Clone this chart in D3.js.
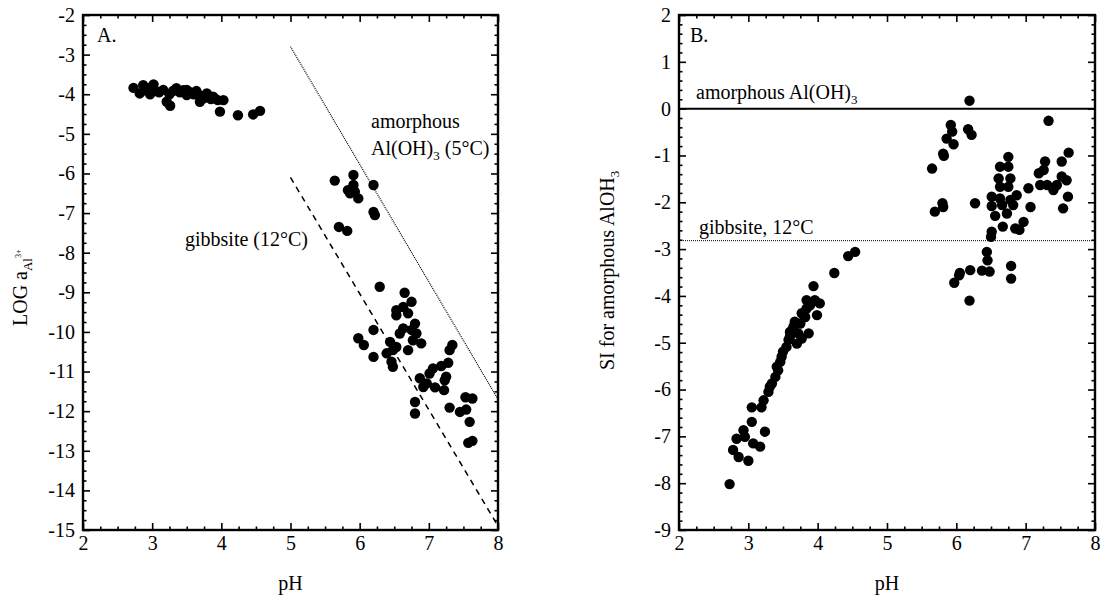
<!DOCTYPE html>
<html><head><meta charset="utf-8">
<script src="https://cdn.jsdelivr.net/npm/d3@7"></script>
<style>
html,body{margin:0;padding:0;background:#fff;}
svg text{font-family:'Liberation Serif','Times New Roman',Times,'DejaVu Serif',serif !important;fill:#000;}
</style></head>
<body>
<svg id="chart" width="1101" height="596"></svg>
<script>
// ---------- DATA ----------
const xTicks = [2,3,4,5,6,7,8];
const yTicksA = [-2,-3,-4,-5,-6,-7,-8,-9,-10,-11,-12,-13,-14,-15];
const yTicksB = [2,1,0,-1,-2,-3,-4,-5,-6,-7,-8,-9];

// Panel A: pH vs LOG a(Al3+)
const phA = [2.73,2.87,3.02,2.82,2.97,3.16,3.21,3.26,3.35,3.50,3.64,3.69,3.79,3.88,4.03,3.98,4.24,4.46,4.56,
  3.05,3.10,3.30,3.40,3.45,3.55,3.60,3.70,3.75,3.80,3.85,3.90,3.95,2.90,2.95,3.00,3.25,3.50,3.65,
  5.64,5.91,5.83,5.93,5.98,5.86,5.91,6.20,6.20,6.22,5.70,5.82,
  6.29,6.65,6.75,6.53,6.63,6.70,6.53,6.80,6.75,6.63,6.58,6.82,6.77,6.89,6.70,6.20,5.98,6.06,6.20,6.44,6.48,6.39,6.46,6.48,6.53,
  7.34,7.30,7.28,7.18,7.06,7.01,7.25,7.23,6.87,6.92,6.97,7.09,7.22,6.80,6.80,7.53,7.63,7.30,7.45,7.54,7.59,7.57,7.63];
const logAl = [-3.84,-3.77,-3.75,-3.98,-4.00,-3.89,-4.19,-4.29,-3.85,-3.89,-3.92,-4.19,-3.98,-4.06,-4.15,-4.44,-4.53,-4.51,-4.42,
  -3.92,-3.95,-3.92,-3.95,-3.90,-3.95,-4.00,-4.05,-4.10,-4.05,-4.12,-4.10,-4.15,-3.90,-3.85,-3.82,-4.00,-4.02,-3.98,
  -6.18,-6.04,-6.42,-6.46,-6.63,-6.50,-6.29,-6.29,-6.97,-7.05,-7.35,-7.45,
  -8.86,-9.01,-9.24,-9.45,-9.37,-9.53,-9.58,-9.79,-9.95,-9.91,-10.04,-10.04,-10.21,-10.29,-10.46,-9.95,-10.16,-10.33,-10.63,-10.25,-10.46,-10.54,-10.75,-10.88,-10.38,
  -10.33,-10.46,-10.78,-10.86,-10.92,-11.05,-11.13,-11.22,-11.17,-11.39,-11.30,-11.40,-11.47,-11.77,-12.06,-11.65,-11.68,-11.91,-12.02,-11.96,-12.27,-12.80,-12.75];

// Panel A reference lines (pH, log a)
const amorphLineA = [[5,-2.8],[8,-11.7]];
const gibbsLineA = [[5,-6.1],[8,-14.9]];

// Panel B: pH vs SI amorphous Al(OH)3
const phB = [2.73,3.00,2.86,2.78,2.83,2.93,3.05,2.95,3.07,3.17,3.24,3.05,3.19,3.22,3.29,3.34,3.39,3.43,3.46,3.50,3.55,3.60,3.63,3.72,3.70,3.75,3.82,3.87,3.84,3.84,3.96,4.03,3.99,3.94,4.24,4.44,4.54,
  3.65,3.58,3.48,3.41,3.31,3.77,3.89,3.67,3.60,3.77,
  6.19,7.33,5.92,5.94,5.86,5.96,6.17,6.22,5.81,5.82,5.65,5.80,5.69,5.81,6.27,
  6.75,6.63,6.75,6.61,6.78,6.63,6.75,6.51,6.63,6.78,6.87,7.04,6.51,6.66,6.82,7.07,6.56,6.73,6.67,6.85,6.91,6.97,6.51,6.50,
  7.19,7.28,7.21,7.31,7.40,7.45,7.52,7.52,7.59,7.62,7.61,7.54,7.26,
  6.44,6.45,6.20,6.37,6.48,6.05,5.97,6.79,6.79,6.19,6.04];
const siB = [-8.02,-7.52,-7.44,-7.29,-7.05,-6.87,-6.69,-7.01,-7.15,-7.22,-6.90,-6.38,-6.38,-6.23,-6.05,-5.87,-5.73,-5.59,-5.41,-5.19,-5.09,-4.87,-4.73,-4.80,-5.02,-4.59,-4.45,-4.80,-4.27,-4.09,-4.09,-4.16,-4.41,-3.79,-3.51,-3.15,-3.06,
  -4.66,-4.94,-5.30,-5.51,-5.94,-4.37,-4.20,-4.55,-4.77,-4.91,
  0.17,-0.26,-0.35,-0.49,-0.64,-0.76,-0.44,-0.56,-0.96,-1.01,-1.28,-2.02,-2.20,-2.10,-2.02,
  -1.03,-1.24,-1.24,-1.49,-1.49,-1.67,-1.67,-1.88,-1.92,-1.95,-1.85,-1.70,-2.08,-2.06,-2.06,-2.10,-2.29,-2.24,-2.52,-2.56,-2.59,-2.42,-2.63,-2.74,
  -1.38,-1.13,-1.63,-1.63,-1.74,-1.63,-1.13,-1.45,-1.53,-0.94,-1.88,-2.13,-1.31,
  -3.06,-3.24,-3.45,-3.46,-3.48,-3.51,-3.72,-3.36,-3.63,-4.10,-3.56];

const amorphLevelB = 0;
const gibbsLevelB = -2.82;

// ---------- DRAW ----------
const svg = d3.select("#chart");
const FONT = 20;
const SUB = 13;
const FAMILY = "'Liberation Serif','Times New Roman',Times,'DejaVu Serif',serif";

function panel(cfg){
  const {x, y, yTicks, yMinorStep, xs, ys} = cfg;
  const g = svg.append("g");
  const [x0,x1] = x.range(); const [y0,y1] = y.range();
  const xMinor = d3.range(2,8.001,0.25).filter(v=>Math.abs(v-Math.round(v))>1e-6);
  const yd = y.domain();
  const yMinor = d3.range(yd[0], yd[1]+1e-6, yMinorStep).map(v=>+v.toFixed(3)).filter(v=>Math.abs(v-Math.round(v))>1e-6);

  function addAxis(axisFn, scale, ticks, size, pos, labels, pad){
    const a = axisFn(scale).tickValues(ticks).tickSize(size).tickPadding(pad||6);
    if(!labels) a.tickFormat("");
    else a.tickFormat(d=>String(d));
    const ag = g.append("g").attr("transform", pos).call(a);
    ag.attr("font-family", FAMILY).attr("font-size", FONT);
    ag.select(".domain").remove();
    ag.selectAll("line").attr("stroke","#000").attr("stroke-width",1.6);
    ag.selectAll("text").attr("fill","#000").style("font-family",FAMILY);
    return ag;
  }
  addAxis(d3.axisBottom, x, xTicks, -7, `translate(0,${y0})`, true, 6);
  addAxis(d3.axisBottom, x, xMinor, -3.5, `translate(0,${y0})`, false);
  addAxis(d3.axisTop, x, xTicks, -7, `translate(0,${y1})`, false);
  addAxis(d3.axisTop, x, xMinor, -3.5, `translate(0,${y1})`, false);
  addAxis(d3.axisLeft, y, yTicks, -7, `translate(${x0},0)`, true, 8);
  addAxis(d3.axisLeft, y, yMinor, -3.5, `translate(${x0},0)`, false);
  addAxis(d3.axisRight, y, yTicks, -7, `translate(${x1},0)`, false);
  addAxis(d3.axisRight, y, yMinor, -3.5, `translate(${x1},0)`, false);
  g.append("rect").attr("x",x0).attr("y",y1).attr("width",x1-x0).attr("height",y0-y1)
    .attr("fill","none").attr("stroke","#000").attr("stroke-width",2.4);
  g.append("g").selectAll("circle").data(xs.map((v,i)=>[v,ys[i]])).join("circle")
    .attr("cx",d=>x(d[0])).attr("cy",d=>y(d[1])).attr("r",5.2).attr("fill","#000");
  return g;
}

// Panel A
const xA = d3.scaleLinear().domain([2,8]).range([83,498]);
const yA = d3.scaleLinear().domain([-15,-2]).range([530,15]);
const gA = panel({x:xA, y:yA, yTicks:yTicksA, yMinorStep:0.25, xs:phA, ys:logAl});
const line = d3.line();
gA.append("path").attr("d", line(amorphLineA.map(d=>[xA(d[0]),yA(d[1])])))
  .attr("fill","none").attr("stroke","#000").attr("stroke-width",1.2).attr("stroke-dasharray","1,1");
gA.append("path").attr("d", line(gibbsLineA.map(d=>[xA(d[0]),yA(d[1])])))
  .attr("fill","none").attr("stroke","#000").attr("stroke-width",1.5).attr("stroke-dasharray","6,5");

// Panel B
const xB = d3.scaleLinear().domain([2,8]).range([679,1095]);
const yB = d3.scaleLinear().domain([-9,2]).range([530,15]);
const gB = panel({x:xB, y:yB, yTicks:yTicksB, yMinorStep:0.2, xs:phB, ys:siB});
gB.append("line").attr("x1",xB(2)).attr("x2",xB(8)).attr("y1",yB(amorphLevelB)).attr("y2",yB(amorphLevelB))
  .attr("stroke","#000").attr("stroke-width",2);
gB.append("line").attr("x1",xB(2)).attr("x2",xB(8)).attr("y1",yB(gibbsLevelB)).attr("y2",yB(gibbsLevelB))
  .attr("stroke","#000").attr("stroke-width",1).attr("stroke-dasharray","1,1");

// ---------- TEXT ----------
function txt(x,y,s,opts={}){
  const t = svg.append("text").attr("x",x).attr("y",y)
    .attr("font-size",opts.size||FONT).attr("font-family",FAMILY).text(s);
  if(opts.anchor) t.attr("text-anchor",opts.anchor);
  if(opts.rotate) t.attr("transform",`rotate(-90,${x},${y})`);
  return t;
}
txt(97,42,"A.");
txt(690,42,"B.");
txt(xA(5),590,"pH",{anchor:"middle"});
txt(xB(5),590,"pH",{anchor:"middle"});

txt(371,128,"amorphous");
const t1 = txt(371,155,"");
t1.append("tspan").text("Al(OH)");
t1.append("tspan").attr("font-size",SUB).attr("dy",5).text("3");
t1.append("tspan").attr("dy",-5).text(" (5°C)");
txt(185,246,"gibbsite (12°C)");

const t2 = txt(696,99,"");
t2.append("tspan").text("amorphous Al(OH)");
t2.append("tspan").attr("font-size",SUB).attr("dy",5).text("3");
txt(699,234,"gibbsite, 12°C");

const ylA = txt(27,326,"",{rotate:true});
ylA.append("tspan").text("LOG a");
ylA.append("tspan").attr("font-size",SUB).attr("dy",5).text("Al");
ylA.append("tspan").attr("font-size",8).attr("dy",-11).text("3+");

const ylB = txt(614,370,"",{rotate:true});
ylB.append("tspan").text("SI for amorphous AlOH");
ylB.append("tspan").attr("font-size",SUB).attr("dy",5).text("3");
</script>
</body></html>
